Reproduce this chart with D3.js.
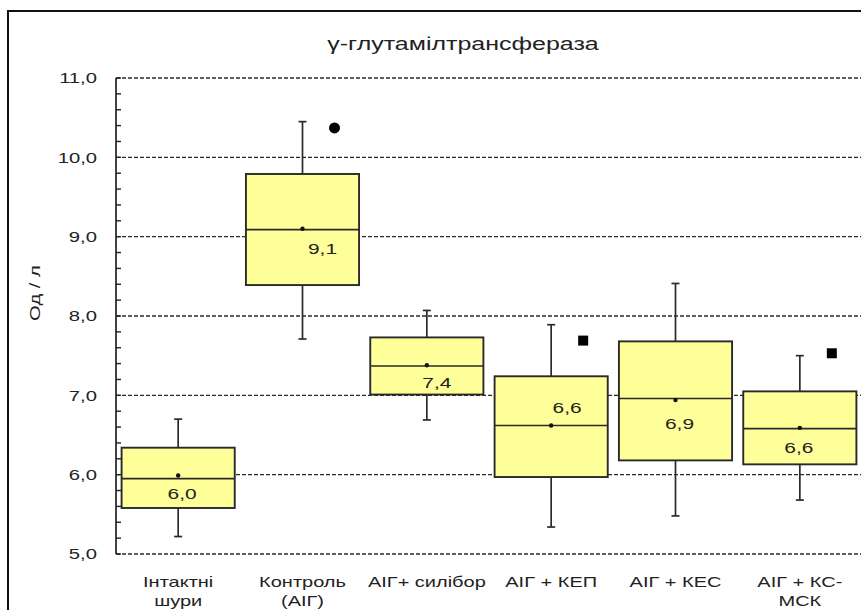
<!DOCTYPE html>
<html>
<head>
<meta charset="utf-8">
<script src="https://cdnjs.cloudflare.com/ajax/libs/d3/7.8.5/d3.min.js"></script>
<style>
  body { margin: 0; background: #fff; }
  text { font-family: "Liberation Sans", Arial, sans-serif; fill: #222; }
</style>
</head>
<body>
<svg id="chart" width="861" height="610"></svg>
<script>
// data
var categories = ["Інтактні\nшури", "Контроль\n(АІГ)", "АІГ+ силібор", "АІГ + КЕП", "АІГ + КЕС", "АІГ + КС-\nМСК"];
var whiskerLow  = [5.22, 7.71, 6.69, 5.34, 5.48, 5.68];
var q1          = [5.58, 8.39, 7.01, 5.97, 6.18, 6.13];
var median      = [5.95, 9.09, 7.37, 6.62, 6.96, 6.58];
var q3          = [6.34, 9.79, 7.73, 7.24, 7.68, 7.05];
var whiskerHigh = [6.70, 10.45, 8.07, 7.89, 8.41, 7.50];
var means       = [5.99, 9.10, 7.38, 6.62, 6.94, 6.59];
var outliers = [
  { cat: 1, value: 10.37, shape: "circle" },
  { cat: 3, value: 7.69, shape: "square" },
  { cat: 5, value: 7.53, shape: "square" }
];
var yTicks = [5, 6, 7, 8, 9, 10, 11];
var title = "γ-глутамілтрансфераза";
var yTitle = "Од / л";

// hand placed mean labels in the original (dx from box centre, dy from median)
var labelShift = [[4, 20], [20, 24], [10, 22], [16, -12], [4, 30], [-1, 24]];

var stretch = 1.35; // the source picture is widened horizontally
var svg = d3.select("#chart");

var y = d3.scaleLinear().domain([5, 11]).range([554, 78]);
var x = d3.scaleBand().domain(d3.range(categories.length))
  .range([116, 862]).paddingInner(0.09).paddingOuter(0.045);

var boxes = categories.map(function(c, i) {
  return { i: i, lo: whiskerLow[i], q1: q1[i], med: median[i], q3: q3[i], hi: whiskerHigh[i], mean: means[i] };
});

function comma(v) { return v.toFixed(1).replace(".", ","); }

// outer frame
svg.append("rect")
  .attr("x", 8).attr("y", 11)
  .attr("width", 900).attr("height", 640)
  .attr("fill", "none").attr("stroke", "#111").attr("stroke-width", 2);

// title
svg.append("text")
  .attr("transform", "translate(463,50) scale(" + stretch + ",1)")
  .attr("text-anchor", "middle")
  .style("font-size", "18.5px")
  .text(title);

// dashed grid
svg.selectAll("line.grid")
  .data(yTicks)
  .enter().append("line")
    .attr("class", "grid")
    .attr("x1", 116).attr("x2", 861)
    .attr("y1", function(d) { return y(d); })
    .attr("y2", function(d) { return y(d); })
    .attr("stroke", "#2a2a2a")
    .attr("stroke-width", 1.4)
    .attr("stroke-dasharray", "4,2");

// y axis line + minor ticks
svg.append("line")
  .attr("x1", 116).attr("x2", 116)
  .attr("y1", y(11)).attr("y2", y(5))
  .attr("stroke", "#222").attr("stroke-width", 1.7);

svg.selectAll("line.minor")
  .data(y.ticks(30))
  .enter().append("line")
    .attr("class", "minor")
    .attr("x1", 116).attr("x2", 121)
    .attr("y1", function(d) { return y(d); })
    .attr("y2", function(d) { return y(d); })
    .attr("stroke", "#222").attr("stroke-width", 1.4);

svg.selectAll("text.ytick")
  .data(yTicks)
  .enter().append("text")
    .attr("class", "ytick")
    .attr("transform", function(d) { return "translate(97," + y(d) + ") scale(" + stretch + ",1)"; })
    .attr("text-anchor", "end")
    .attr("dy", "0.36em")
    .style("font-size", "15px")
    .text(function(d) { return comma(d); });

svg.append("text")
  .attr("transform", "translate(40,293) rotate(-90) scale(" + stretch + ",1)")
  .attr("text-anchor", "middle")
  .style("font-size", "15px")
  .text(yTitle);

// x labels
var xl = svg.selectAll("text.xlab")
  .data(categories)
  .enter().append("text")
    .attr("class", "xlab")
    .attr("transform", function(d, i) { return "translate(" + (x(i) + x.bandwidth() / 2) + ",587) scale(" + stretch + ",1)"; })
    .attr("text-anchor", "middle")
    .style("font-size", "14.8px");
xl.selectAll("tspan")
  .data(function(d) { return d.split("\n"); })
  .enter().append("tspan")
    .attr("x", 0)
    .attr("dy", function(d, j) { return j ? 19 : 0; })
    .text(function(d) { return d; });

// boxes
var g = svg.selectAll("g.box")
  .data(boxes)
  .enter().append("g")
    .attr("class", "box")
    .attr("transform", function(d) { return "translate(" + x(d.i) + ",0)"; });

var bw = x.bandwidth();

g.append("line")
  .attr("x1", bw / 2).attr("x2", bw / 2)
  .attr("y1", function(d) { return y(d.hi); })
  .attr("y2", function(d) { return y(d.lo); })
  .attr("stroke", "#2a2a2a").attr("stroke-width", 1.7);

g.selectAll("line.cap")
  .data(function(d) { return [d.hi, d.lo]; })
  .enter().append("line")
    .attr("class", "cap")
    .attr("x1", bw / 2 - 4).attr("x2", bw / 2 + 4)
    .attr("y1", function(v) { return y(v); })
    .attr("y2", function(v) { return y(v); })
    .attr("stroke", "#2a2a2a").attr("stroke-width", 1.7);

g.append("rect")
  .attr("x", 0).attr("width", bw)
  .attr("y", function(d) { return y(d.q3); })
  .attr("height", function(d) { return y(d.q1) - y(d.q3); })
  .attr("fill", "#ffff99")
  .attr("stroke", "#2a2a2a").attr("stroke-width", 1.9);

g.append("line")
  .attr("x1", 0).attr("x2", bw)
  .attr("y1", function(d) { return y(d.med); })
  .attr("y2", function(d) { return y(d.med); })
  .attr("stroke", "#2a2a2a").attr("stroke-width", 1.7);

g.append("circle")
  .attr("cx", bw / 2)
  .attr("cy", function(d) { return y(d.mean); })
  .attr("r", 2.2)
  .attr("fill", "#111");

g.append("text")
  .attr("transform", function(d) {
    var s = labelShift[d.i];
    return "translate(" + (bw / 2 + s[0]) + "," + (y(d.med) + s[1]) + ") scale(" + stretch + ",1)";
  })
  .attr("text-anchor", "middle")
  .style("font-size", "15.5px")
  .text(function(d) { return comma(d.mean); });

// outliers
var ox = function(d) { return x(d.cat) + bw / 2 + 32; };
svg.selectAll("circle.out")
  .data(outliers.filter(function(d) { return d.shape === "circle"; }))
  .enter().append("circle")
    .attr("class", "out")
    .attr("cx", ox)
    .attr("cy", function(d) { return y(d.value); })
    .attr("r", 5.5)
    .attr("fill", "#000");

svg.selectAll("rect.out")
  .data(outliers.filter(function(d) { return d.shape === "square"; }))
  .enter().append("rect")
    .attr("class", "out")
    .attr("x", function(d) { return ox(d) - 5; })
    .attr("y", function(d) { return y(d.value) - 5; })
    .attr("width", 10).attr("height", 10)
    .attr("fill", "#000");
</script>
</body>
</html>
